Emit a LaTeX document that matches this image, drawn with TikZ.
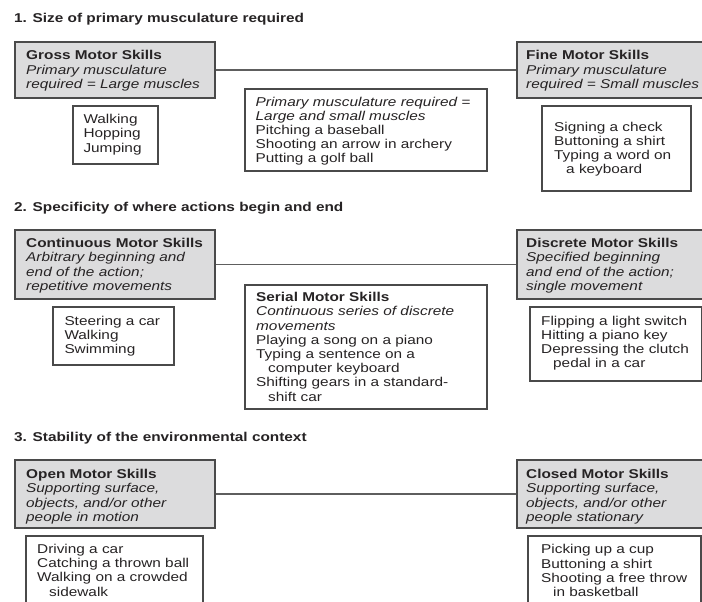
\documentclass[tikz,border=0pt]{standalone}
\usepackage{fontspec}
\setmainfont{Liberation Sans}[FakeStretch=1.2]
\usetikzlibrary{calc}

\definecolor{ink}{HTML}{262324}
\definecolor{headfill}{HTML}{DCDCDD}
\definecolor{boxline}{HTML}{4A4A4A}
\definecolor{linecol}{HTML}{5E5E5E}

\tikzset{
  headbox/.style={draw=boxline, fill=headfill, line width=1.8pt, anchor=north west, inner sep=0pt},
  exbox/.style={draw=boxline, fill=white, line width=1.6pt, anchor=north west, inner sep=0pt},
  txt/.style={anchor=north west, inner sep=0pt, align=left, text=ink,
              font=\fontsize{12.8}{14.2}\selectfont},
  sectitle/.style={anchor=base west, inner sep=0pt, text=ink,
              font=\bfseries\fontsize{12.8}{14.2}\selectfont},
  link/.style={draw=linecol, line width=1.7pt}
}
\newcommand{\cont}{\hspace*{12pt}}

\begin{document}
\begin{tikzpicture}[x=1pt, y=-1pt]
  \clip (0,0) rectangle (702,602);
  \fill[white] (0,0) rectangle (702,602);

  % ---- 1. Size of primary musculature ----
  \node[sectitle] (t1) at (14,22.7) {1. Size of primary musculature required};

  \node[headbox, minimum width=200pt, minimum height=56pt] (gross) at (14,41) {};
  \node[headbox, minimum width=200pt, minimum height=56pt] (fine) at (516,41) {};
  \draw[link] (gross.east) -- (fine.west);
  \node[exbox, minimum width=85pt, minimum height=58pt] (grossEx) at (72,105) {};
  \node[exbox, minimum width=242pt, minimum height=82pt] (mid) at (244,88) {};
  \node[exbox, minimum width=149pt, minimum height=85pt] (fineEx) at (541,105) {};

  \node[txt] (grossT) at (26,50.5) {\textbf{Gross Motor Skills}\\\textit{Primary musculature}\\\textit{required = Large muscles}};
  \node[txt] (fineT) at (526,50.5) {\textbf{Fine Motor Skills}\\\textit{Primary musculature}\\\textit{required = Small muscles}};
  \node[txt] (grossExT) at (83.3,114.3) {Walking\\Hopping\\Jumping};
  \node[txt] (midT) at (255.5,96.7) {\textit{Primary musculature required =}\\\textit{Large and small muscles}\\Pitching a baseball\\Shooting an arrow in archery\\Putting a golf ball};
  \node[txt] (fineExT) at (554,121.7) {Signing a check\\Buttoning a shirt\\Typing a word on\\\cont a keyboard};

  % ---- 2. Specificity of where actions begin and end ----
  \node[sectitle] (t2) at (14,211.7) {2. Specificity of where actions begin and end};

  \node[headbox, minimum width=200pt, minimum height=69pt] (contin) at (14,229) {};
  \node[headbox, minimum width=200pt, minimum height=69pt] (disc) at (516,229) {};
  \draw[link] (contin.east) -- (disc.west);
  \node[exbox, minimum width=121pt, minimum height=58pt] (continEx) at (52,306) {};
  \node[exbox, minimum width=242pt, minimum height=124pt] (serial) at (244,284) {};
  \node[exbox, minimum width=172pt, minimum height=74pt] (discEx) at (529,306) {};

  \node[txt] (continT) at (26,238.3) {\textbf{Continuous Motor Skills}\\\textit{Arbitrary beginning and}\\\textit{end of the action;}\\\textit{repetitive movements}};
  \node[txt] (discT) at (526,238.3) {\textbf{Discrete Motor Skills}\\\textit{Specified beginning}\\\textit{and end of the action;}\\\textit{single movement}};
  \node[txt] (continExT) at (64.3,315.7) {Steering a car\\Walking\\Swimming};
  \node[txt] (serialT) at (256,292.3) {\textbf{Serial Motor Skills}\\\textit{Continuous series of discrete}\\\textit{movements}\\Playing a song on a piano\\Typing a sentence on a\\\cont computer keyboard\\Shifting gears in a standard-\\\cont shift car};
  \node[txt] (discExT) at (541,315.7) {Flipping a light switch\\Hitting a piano key\\Depressing the clutch\\\cont pedal in a car};

  % ---- 3. Stability of the environmental context ----
  \node[sectitle] (t3) at (14,441) {3. Stability of the environmental context};

  \node[headbox, minimum width=200pt, minimum height=68pt] (open) at (14,459) {};
  \node[headbox, minimum width=200pt, minimum height=68pt] (closed) at (516,459) {};
  \draw[link] (open.east) -- (closed.west);
  \node[exbox, minimum width=177pt, minimum height=80pt] (openEx) at (25,535) {};
  \node[exbox, minimum width=173pt, minimum height=80pt] (closedEx) at (527,535) {};

  \node[txt] (openT) at (26,469.3) {\textbf{Open Motor Skills}\\\textit{Supporting surface,}\\\textit{objects, and/or other}\\\textit{people in motion}};
  \node[txt] (closedT) at (526,469.3) {\textbf{Closed Motor Skills}\\\textit{Supporting surface,}\\\textit{objects, and/or other}\\\textit{people stationary}};
  \node[txt] (openExT) at (37,544) {Driving a car\\Catching a thrown ball\\Walking on a crowded\\\cont sidewalk};
  \node[txt] (closedExT) at (541,544.5) {Picking up a cup\\Buttoning a shirt\\Shooting a free throw\\\cont in basketball};
\end{tikzpicture}
\end{document}
